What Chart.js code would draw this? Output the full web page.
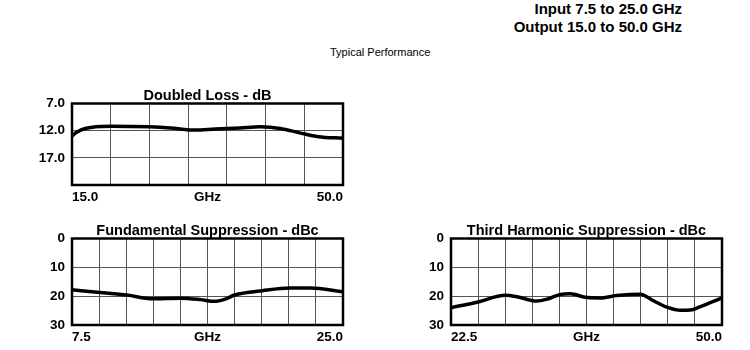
<!DOCTYPE html>
<html>
<head>
<meta charset="utf-8">
<script src="https://cdn.jsdelivr.net/npm/chart.js@4.4.1/dist/chart.umd.min.js"></script>
<style>
  body { margin: 0; background: #fff; font-family: "Liberation Sans", Arial, sans-serif; }
  #page { position: relative; width: 750px; height: 350px; overflow: hidden; }
  .hdr { position: absolute; right: 68px; font-weight: bold; font-size: 15px; color: #000; text-align: right; line-height: 18px; }
  #sub { position: absolute; left: 330px; top: 46px; font-size: 11px; color: #000; }
  canvas { position: absolute; }
</style>
</head>
<body>
<div id="page">
  <div class="hdr" style="top:0px">Input 7.5 to 25.0 GHz</div>
  <div class="hdr" style="top:18px">Output 15.0 to 50.0 GHz</div>
  <div id="sub">Typical Performance</div>
  <canvas id="lossChart" style="left:0;top:80px" width="360" height="130"></canvas>
  <canvas id="fundChart" style="left:0;top:215px" width="360" height="135"></canvas>
  <canvas id="thirdChart" style="left:380px;top:215px" width="370" height="135"></canvas>
</div>
<script>
// Doubled loss (output 15 - 50 GHz)
const lossTicksX = [15, 20, 25, 30, 35, 40, 45, 50];
const lossFreq = [15, 15.6, 16.7, 18, 20, 25, 27.7, 30.9, 33.5, 36.7, 39.3, 41.9, 44.4, 46.8, 50];
const lossDb   = [13.0, 12.3, 11.6, 11.3, 11.2, 11.3, 11.5, 11.9, 11.7, 11.5, 11.3, 11.6, 12.4, 13.1, 13.4];

// Fundamental suppression (input 7.5 - 25 GHz)
const fundTicksX = [7.5, 9.25, 11, 12.75, 14.5, 16.25, 18, 19.75, 21.5, 23.25, 25];
const fundFreq = [7.5, 9.3, 11.05, 12.7, 14.5, 15.8, 16.7, 17.4, 18.0, 19.8, 21.6, 22.9, 25];
const fundDbc  = [17.8, 18.7, 19.6, 20.9, 20.7, 21.2, 21.8, 21.0, 19.6, 18.1, 17.2, 17.2, 18.5];

// Third harmonic suppression (22.5 - 50 GHz)
const thirdTicksX = [22.5, 25.25, 28, 30.75, 33.5, 36.25, 39, 41.75, 44.5, 47.25, 50];
const thirdFreq = [22.5, 25.25, 28.0, 29.2, 31.2, 32.3, 33.6, 34.6, 36.3, 37.6, 39.3, 41.7, 43.0, 44.4, 45.8, 46.8, 47.8, 50];
const thirdDbc  = [24.0, 22.0, 19.7, 20.2, 21.7, 21.0, 19.4, 19.2, 20.5, 20.6, 19.8, 19.3, 21.5, 23.8, 24.9, 24.8, 23.6, 20.6];

const FAMILY = '"Liberation Sans", Arial, sans-serif';
const TICK_FONT = { family: FAMILY, weight: 'bold', size: 13.5 };

// heavy frame round the plot area, title centred over it
const framePlugin = {
  id: 'frame',
  afterDatasetsDraw(chart, args, opts) {
    const a = chart.chartArea, ctx = chart.ctx;
    ctx.save();
    ctx.strokeStyle = '#000';
    ctx.lineWidth = 2.5;
    ctx.strokeRect(a.left, a.top, a.right - a.left, a.bottom - a.top);
    ctx.fillStyle = '#000';
    ctx.font = 'bold 14.5px ' + FAMILY;
    ctx.textAlign = 'center';
    ctx.textBaseline = 'alphabetic';
    ctx.fillText(opts.text, (a.left + a.right) / 2, a.top - 4);
    ctx.restore();
  }
};

function makeChart(id, title, freq, vals, gridX, yMin, yMax, yStep, yDecimals, hideLastY, rightPad, yWidth) {
  const mid = (gridX[0] + gridX[gridX.length - 1]) / 2;
  const pts = freq.map((f, i) => ({ x: f, y: vals[i] }));
  return new Chart(document.getElementById(id), {
    type: 'line',
    data: {
      datasets: [{
        data: pts,
        borderColor: '#000',
        borderWidth: 3.5,
        pointRadius: 0,
        cubicInterpolationMode: 'monotone',
        fill: false
      }]
    },
    options: {
      responsive: false,
      animation: false,
      layout: { padding: { top: 23.5, right: rightPad, bottom: 0, left: 0 } },
      plugins: {
        legend: { display: false },
        tooltip: { enabled: false },
        title: { display: false },
        frame: { text: title }
      },
      scales: {
        x: {
          type: 'linear',
          min: gridX[0],
          max: gridX[gridX.length - 1],
          afterBuildTicks(scale) {
            const vals = gridX.slice();
            if (!vals.includes(mid)) vals.push(mid);
            vals.sort((a, b) => a - b);
            scale.ticks = vals.map(v => ({ value: v }));
          },
          afterFit(scale) { scale.height = 25; },
          grid: {
            drawTicks: false,
            color: ctx => (ctx.tick && gridX.includes(ctx.tick.value)) ? '#555' : 'rgba(0,0,0,0)',
            lineWidth: 1
          },
          border: { display: false },
          ticks: {
            align: 'inner',
            padding: 4,
            color: '#000',
            font: TICK_FONT,
            maxRotation: 0,
            autoSkip: false,
            callback: function(v) {
              if (v === gridX[0] || v === gridX[gridX.length - 1]) return v.toFixed(1);
              if (v === mid) return 'GHz';
              return '';
            }
          }
        },
        y: {
          reverse: true,
          min: yMin,
          max: yMax,
          afterFit(scale) { scale.width = yWidth; },
          grid: { drawTicks: false, color: '#555', lineWidth: 1 },
          border: { display: false },
          ticks: {
            stepSize: yStep,
            padding: 7,
            color: '#000',
            font: TICK_FONT,
            callback: function(v) {
              if (hideLastY && v === yMax) return '';
              return v.toFixed(yDecimals);
            }
          }
        }
      }
    },
    plugins: [framePlugin]
  });
}

makeChart('lossChart', 'Doubled Loss - dB', lossFreq, lossDb, lossTicksX, 7, 22, 5, 1, true, 17, 72);
makeChart('fundChart', 'Fundamental Suppression - dBc', fundFreq, fundDbc, fundTicksX, 0, 30, 10, 0, false, 17, 72);
makeChart('thirdChart', 'Third Harmonic Suppression - dBc', thirdFreq, thirdDbc, thirdTicksX, 0, 30, 10, 0, false, 28, 71);
</script>
</body>
</html>
